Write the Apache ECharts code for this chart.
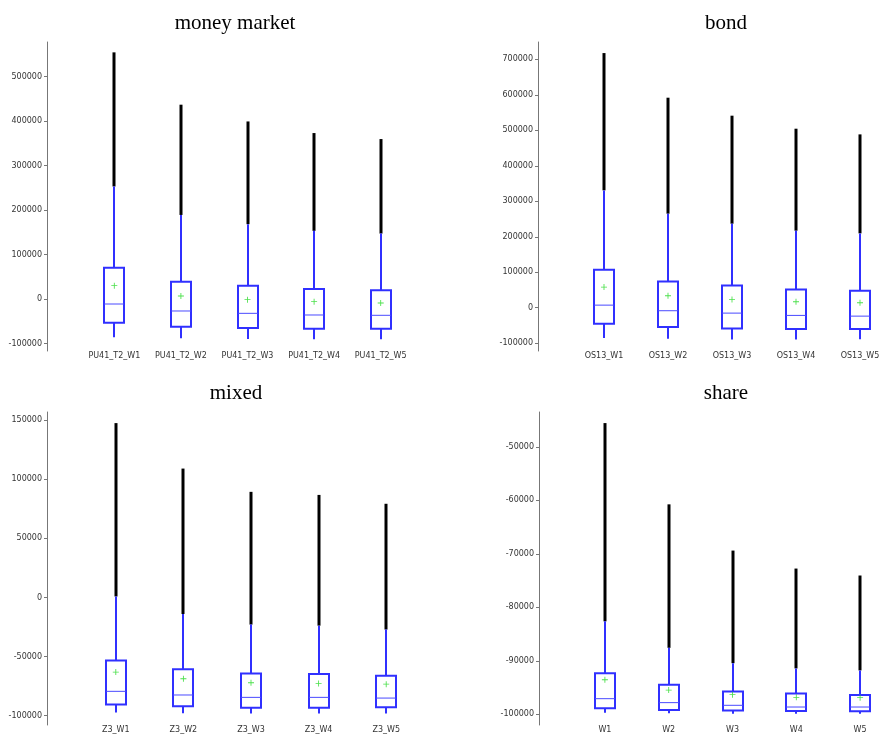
<!DOCTYPE html>
<html>
<head>
<meta charset="utf-8">
<script src="https://cdn.jsdelivr.net/npm/echarts@6/dist/echarts.min.js"></script>
<style>html,body{margin:0;padding:0;background:#fff;}#c{width:892px;height:734px;}</style>
</head>
<body>
<div id="c"></div>
<script>
// ---- money market ----
const mmCats = ['PU41_T2_W1','PU41_T2_W2','PU41_T2_W3','PU41_T2_W4','PU41_T2_W5'];
const mmLow = [-86300, -88500, -90000, -90800, -90500];
const mmQ1 = [-53400, -62400, -65300, -66900, -66900];
const mmMed = [-11300, -27000, -32300, -36000, -36700];
const mmQ3 = [70500, 39000, 30000, 22500, 19600];
const mmWhiskHi = [253000, 189000, 168200, 153200, 147100];
const mmMax = [554700, 437000, 399300, 373200, 359700];
const mmMean = [30000, 6800, -1500, -6000, -9000];
const mmTicks = [-100000, 0, 100000, 200000, 300000, 400000, 500000];

// ---- bond ----
const bdCats = ['OS13_W1','OS13_W2','OS13_W3','OS13_W4','OS13_W5'];
const bdLow = [-85700, -87400, -89400, -89400, -89000];
const bdQ1 = [-45100, -54700, -58400, -60300, -60300];
const bdMed = [7300, -8500, -15200, -21700, -23700];
const bdQ3 = [107100, 74100, 62900, 51600, 47900];
const bdWhiskHi = [330700, 265000, 236800, 217100, 209500];
const bdMax = [717800, 592000, 541300, 504600, 488600];
const bdMean = [58100, 33800, 23400, 16900, 14100];
const bdTicks = [-100000, 0, 100000, 200000, 300000, 400000, 500000, 600000, 700000];

// ---- mixed ----
const mxCats = ['Z3_W1','Z3_W2','Z3_W3','Z3_W4','Z3_W5'];
const mxLow = [-97500, -98100, -98300, -98300, -98300];
const mxQ1 = [-90700, -92200, -93300, -93300, -93000];
const mxMed = [-79500, -82600, -84600, -84600, -85200];
const mxQ3 = [-53400, -60700, -64300, -64900, -66300];
const mxWhiskHi = [800, -14000, -23000, -23900, -27200];
const mxMax = [147600, 109100, 89400, 86800, 79300];
const mxMean = [-63200, -68800, -72200, -72800, -73400];
const mxTicks = [-100000, -50000, 0, 50000, 100000, 150000];

// ---- share ----
const shCats = ['W1','W2','W3','W4','W5'];
const shLow = [-99700, -99800, -99900, -99900, -99900];
const shQ1 = [-98880, -99200, -99310, -99390, -99440];
const shMed = [-97080, -97820, -98320, -98640, -98640];
const shQ3 = [-92310, -94470, -95720, -96090, -96400];
const shWhiskHi = [-82630, -87580, -90450, -91430, -91800];
const shMax = [-45570, -60760, -69400, -72760, -74060];
const shMean = [-93540, -95470, -96330, -96830, -96890];
const shTicks = [-100000, -90000, -80000, -70000, -60000, -50000];

const titles = ['money market', 'bond', 'mixed', 'share'];

const panels = [
  {title: titles[0], cats: mmCats, low: mmLow, q1: mmQ1, med: mmMed, q3: mmQ3, hi: mmWhiskHi, max: mmMax, mean: mmMean, ticks: mmTicks,
   grid: {left: 81, top: 42, width: 333, height: 309}, yMin: -117000, yMax: 578000, off: 34, tx: 230, ty: 8},
  {title: titles[1], cats: bdCats, low: bdLow, q1: bdQ1, med: bdMed, q3: bdQ3, hi: bdWhiskHi, max: bdMax, mean: bdMean, ticks: bdTicks,
   grid: {left: 572, top: 42, width: 333, height: 309}, yMin: -122000, yMax: 749000, off: 34, tx: 721, ty: 8},
  {title: titles[2], cats: mxCats, low: mxLow, q1: mxQ1, med: mxMed, q3: mxQ3, hi: mxWhiskHi, max: mxMax, mean: mxMean, ticks: mxTicks,
   grid: {left: 82, top: 412, width: 338, height: 314}, yMin: -108000, yMax: 157000, off: 35, tx: 231, ty: 378},
  {title: titles[3], cats: shCats, low: shLow, q1: shQ1, med: shMed, q3: shQ3, hi: shWhiskHi, max: shMax, mean: shMean, ticks: shTicks,
   grid: {left: 573, top: 412, width: 338, height: 314}, yMin: -102000, yMax: -43500, off: 34, tx: 721, ty: 378}
];

const BLUE = '#3030ff';
const BOXW = 20;

function renderBox(params, api) {
  const i = api.value(0);
  const pLow = api.coord([i, api.value(1)]);
  const pQ1 = api.coord([i, api.value(2)]);
  const pMed = api.coord([i, api.value(3)]);
  const pQ3 = api.coord([i, api.value(4)]);
  const pHi = api.coord([i, api.value(5)]);
  const pMax = api.coord([i, api.value(6)]);
  const x = Math.round(pQ1[0]);
  const h = BOXW / 2;
  return {
    type: 'group',
    children: [
      {type: 'line', shape: {x1: x, y1: pHi[1], x2: x, y2: pMax[1]}, style: {stroke: '#000', lineWidth: 3}},
      {type: 'line', shape: {x1: x, y1: pQ3[1], x2: x, y2: pHi[1]}, style: {stroke: BLUE, lineWidth: 2}},
      {type: 'line', shape: {x1: x, y1: pLow[1], x2: x, y2: pQ1[1]}, style: {stroke: BLUE, lineWidth: 2}},
      {type: 'rect', shape: {x: x - h, y: pQ3[1], width: BOXW, height: pQ1[1] - pQ3[1]}, style: {fill: '#fff', stroke: BLUE, lineWidth: 2}},
      {type: 'line', shape: {x1: x - h, y1: pMed[1], x2: x + h, y2: pMed[1]}, style: {stroke: '#4a4aff', lineWidth: 1}}
    ]
  };
}

const option = {
  animation: false,
  backgroundColor: '#fff',
  title: [], grid: [], xAxis: [], yAxis: [], series: []
};

panels.forEach((p, k) => {
  option.title.push({
    text: p.title, left: p.tx, top: p.ty, textAlign: 'center',
    textStyle: {fontFamily: 'Liberation Serif', fontWeight: 'normal', fontSize: 21, color: '#000'}
  });
  option.grid.push(Object.assign({containLabel: false}, p.grid));
  option.xAxis.push({
    type: 'category', gridIndex: k, data: p.cats,
    axisLine: {show: false}, axisTick: {show: false}, splitLine: {show: false},
    axisLabel: {margin: 1, fontFamily: 'DejaVu Sans', fontSize: 8, color: '#333', interval: 0}
  });
  option.yAxis.push({
    type: 'value', gridIndex: k, min: p.yMin, max: p.yMax, offset: p.off,
    splitLine: {show: false},
    axisLine: {show: true, lineStyle: {color: '#777', width: 1}},
    axisTick: {show: true, length: 3, customValues: p.ticks, lineStyle: {color: '#777'}},
    axisLabel: {customValues: p.ticks, margin: 5, fontFamily: 'DejaVu Sans', fontSize: 8, color: '#333',
      formatter: v => String(v)}
  });
  option.series.push({
    type: 'custom', xAxisIndex: k, yAxisIndex: k,
    renderItem: renderBox,
    encode: {x: 0, y: [1, 2, 3, 4, 5, 6]},
    data: p.cats.map((c, i) => [i, p.low[i], p.q1[i], p.med[i], p.q3[i], p.hi[i], p.max[i]])
  });
  option.series.push({
    type: 'scatter', xAxisIndex: k, yAxisIndex: k, z: 5,
    symbol: 'path://M3,0H4V7H3Z M0,3H7V4H0Z', symbolSize: 6,
    itemStyle: {color: '#1ed81e'},
    data: p.mean.map((v, i) => [i, v])
  });
});

const chart = echarts.init(document.getElementById('c'), null, {renderer: 'canvas'});
chart.setOption(option);
</script>
</body>
</html>
